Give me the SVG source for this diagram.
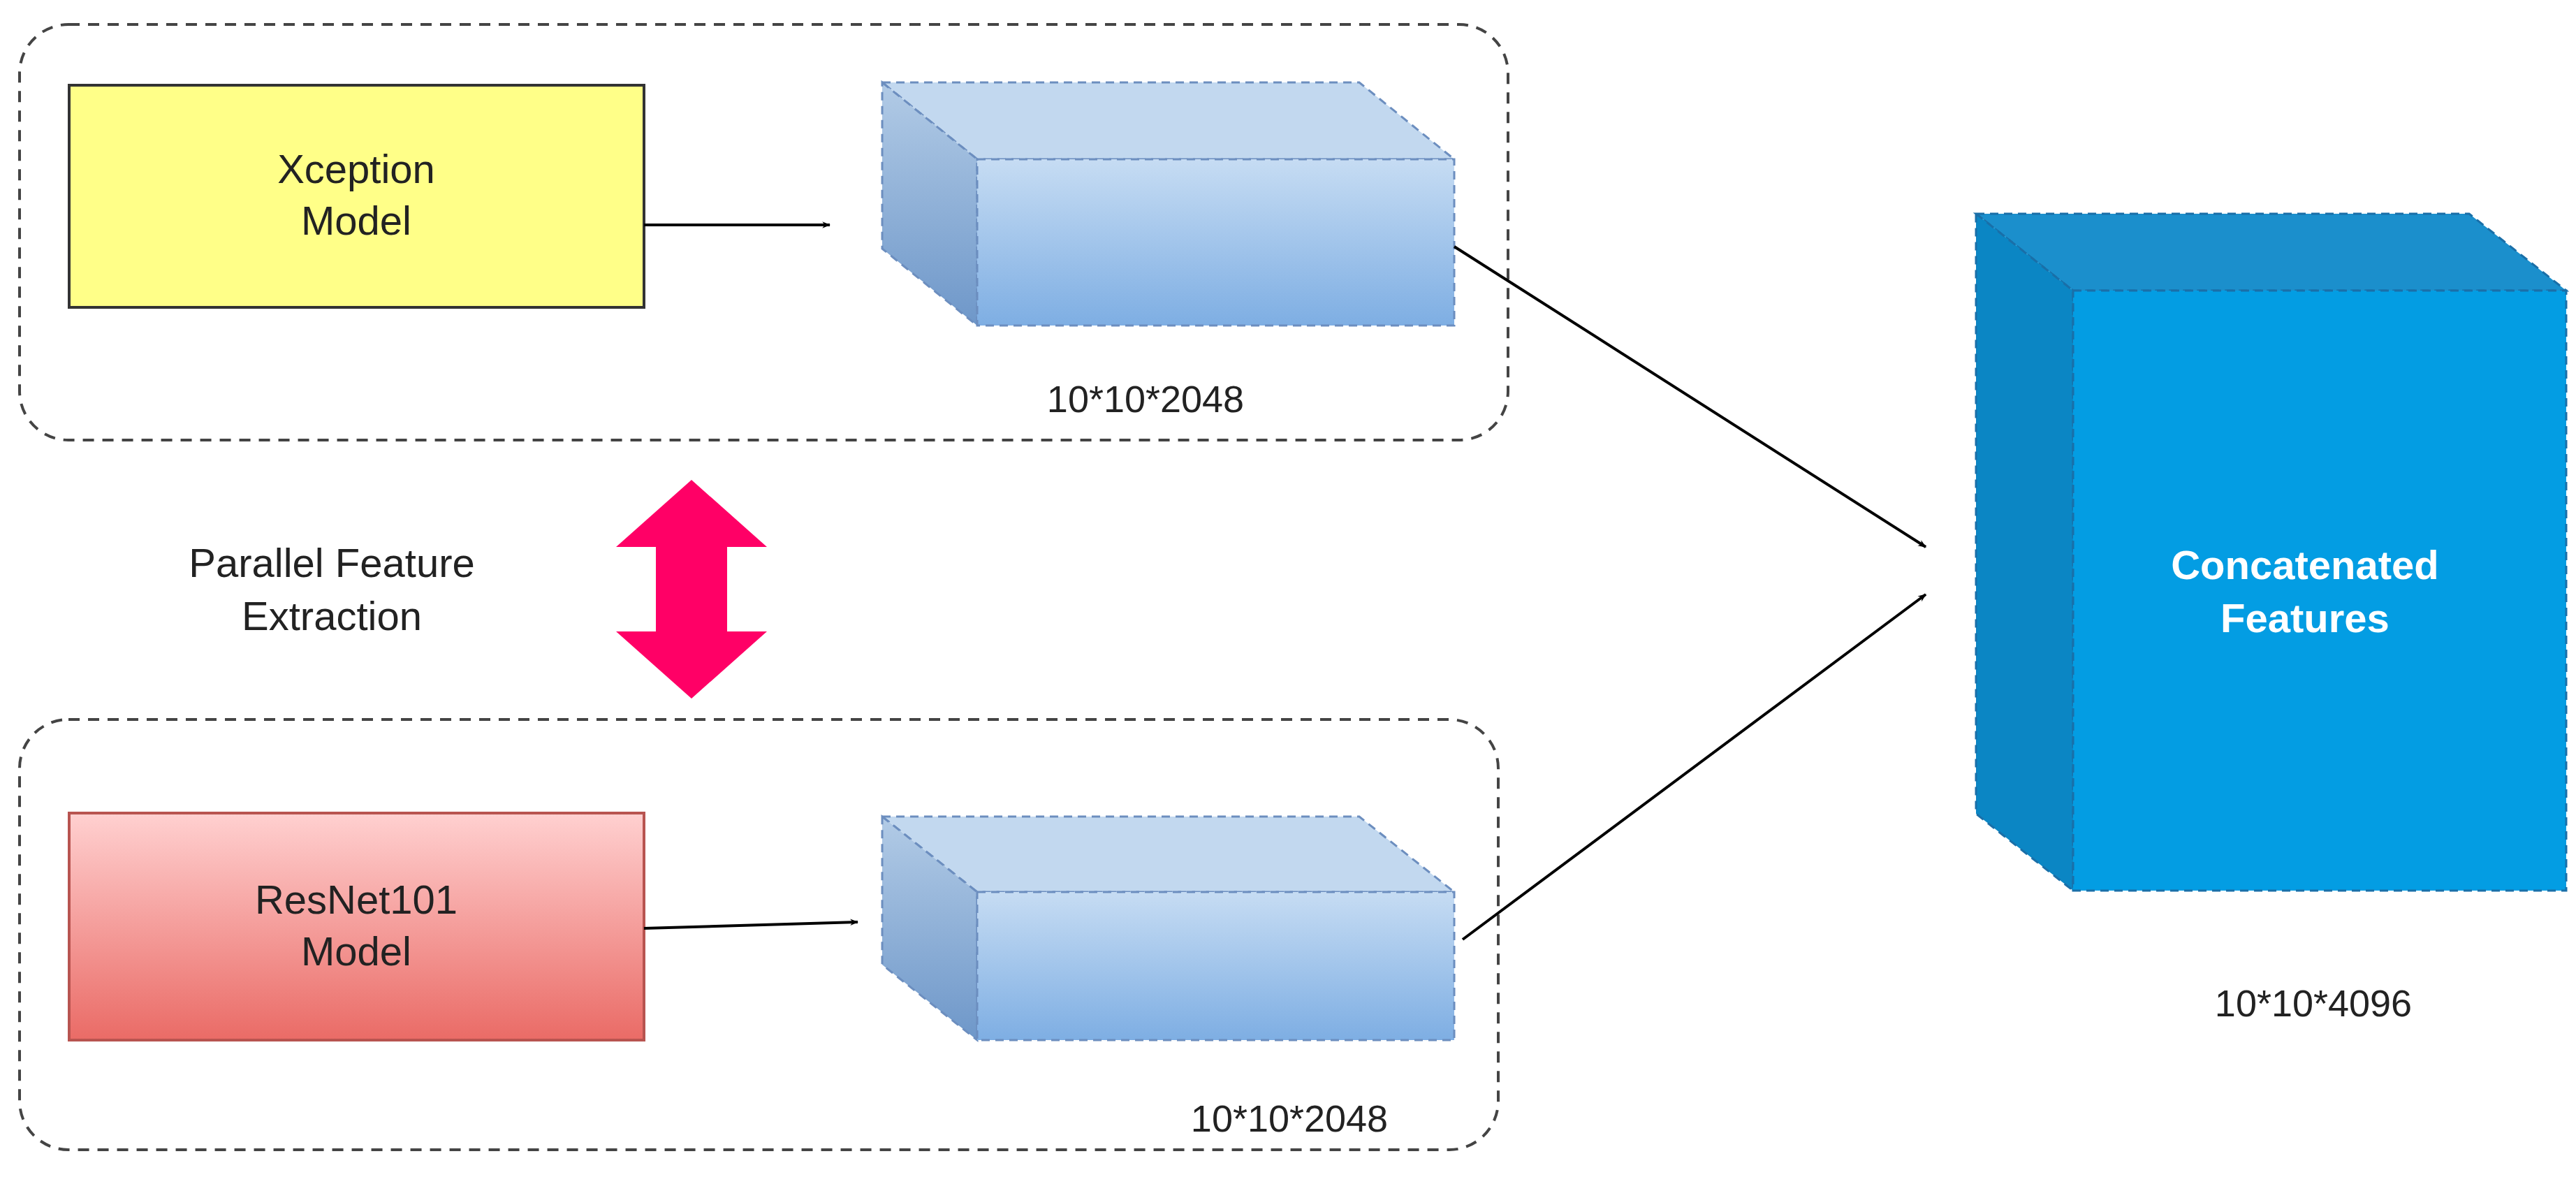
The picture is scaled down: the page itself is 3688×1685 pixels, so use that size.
<svg xmlns="http://www.w3.org/2000/svg" width="3688" height="1685" viewBox="0 0 3688 1685">
<defs>
<style>
.grp{fill:none;stroke:#444;stroke-width:4;stroke-dasharray:16 12}
.t{font-family:"Liberation Sans",Arial,sans-serif;font-size:58px;fill:#222;text-anchor:middle}
.w{font-family:"Liberation Sans",Arial,sans-serif;font-size:58px;fill:#fff;font-weight:bold;text-anchor:middle}
.c{stroke:#6c8ebf;stroke-width:3;stroke-dasharray:12 8}
.ln{stroke:#000;stroke-width:4;fill:none;marker-end:url(#ah)}
</style>
<marker id="ah" viewBox="0 0 20 20" refX="18" refY="10" markerWidth="12" markerHeight="12" markerUnits="userSpaceOnUse" orient="auto"><path d="M0,2 L20,10 L0,18 L6,10 Z" fill="#000"/></marker>
<linearGradient id="blue" x1="0" y1="0" x2="0" y2="1"><stop offset="0" stop-color="#c6dcf3"/><stop offset="1" stop-color="#7eaee3"/></linearGradient>
<linearGradient id="blueS" x1="0" y1="0" x2="0" y2="1"><stop offset="0" stop-color="#b2cbe6"/><stop offset="1" stop-color="#6e97c9"/></linearGradient>
<linearGradient id="red" x1="0" y1="0" x2="0" y2="1"><stop offset="0" stop-color="#ffd0d0"/><stop offset="1" stop-color="#ea6b66"/></linearGradient>
</defs>
<rect width="3688" height="1685" fill="#fff"/>
<g id="group-top"><rect class="grp" x="28" y="35" width="2131" height="595" rx="70"/></g>
<g id="group-bottom"><rect class="grp" x="28" y="1030" width="2117" height="616" rx="70"/></g>
<g id="xception"><rect x="99" y="122" width="823" height="318" fill="#ffff88" stroke="#333" stroke-width="4"/><text class="t" x="510" y="262">Xception</text><text class="t" x="510" y="336">Model</text></g>
<g id="resnet"><rect x="99" y="1164" width="823" height="325" fill="url(#red)" stroke="#b85450" stroke-width="4"/><text class="t" x="510" y="1308">ResNet101</text><text class="t" x="510" y="1382">Model</text></g>
<g id="cube-top">
<path class="c" d="M1263,118 L1946,118 L2082,228 L1399,228 Z" fill="#c2d8ef"/>
<path class="c" d="M1263,118 L1399,228 L1399,466 L1263,356 Z" fill="url(#blueS)"/>
<rect class="c" x="1399" y="228" width="683" height="238" fill="url(#blue)"/>
<text class="t" x="1640" y="590" style="font-size:54px">10*10*2048</text>
</g>
<g id="cube-bottom">
<path class="c" d="M1263,1169 L1946,1169 L2082,1277 L1399,1277 Z" fill="#c2d8ef"/>
<path class="c" d="M1263,1169 L1399,1277 L1399,1489 L1263,1381 Z" fill="url(#blueS)"/>
<rect class="c" x="1399" y="1277" width="683" height="212" fill="url(#blue)"/>
<text class="t" x="1846" y="1620" style="font-size:54px">10*10*2048</text>
</g>
<g id="concat">
<path d="M2829,306 L3535,306 L3674,416 L2968,416 Z" fill="#1b8fcc" stroke="#1a6fa8" stroke-width="3" stroke-dasharray="12 8"/>
<path d="M2829,306 L2968,416 L2968,1275 L2829,1165 Z" fill="#0b86c4" stroke="#1a6fa8" stroke-width="3" stroke-dasharray="12 8"/>
<rect x="2968" y="416" width="706" height="859" fill="#039de3" stroke="#1a6fa8" stroke-width="3" stroke-dasharray="12 8"/>
<text class="w" x="3300" y="829">Concatenated</text><text class="w" x="3300" y="905">Features</text>
<text class="t" x="3312" y="1455" style="font-size:54px">10*10*4096</text>
</g>
<g id="parallel">
<path d="M990,687 L1098,783 L1041,783 L1041,904 L1098,904 L990,1000 L882,904 L939,904 L939,783 L882,783 Z" fill="#ff0066"/>
<text class="t" x="475" y="826">Parallel Feature</text><text class="t" x="475" y="902">Extraction</text>
</g>
<g id="connectors">
<path class="ln" d="M922,322 L1188,322"/>
<path class="ln" d="M922,1329 L1228,1320"/>
<path class="ln" d="M2082,353 L2757,783"/>
<path class="ln" d="M2094,1345 L2757,851"/>
</g>
</svg>
